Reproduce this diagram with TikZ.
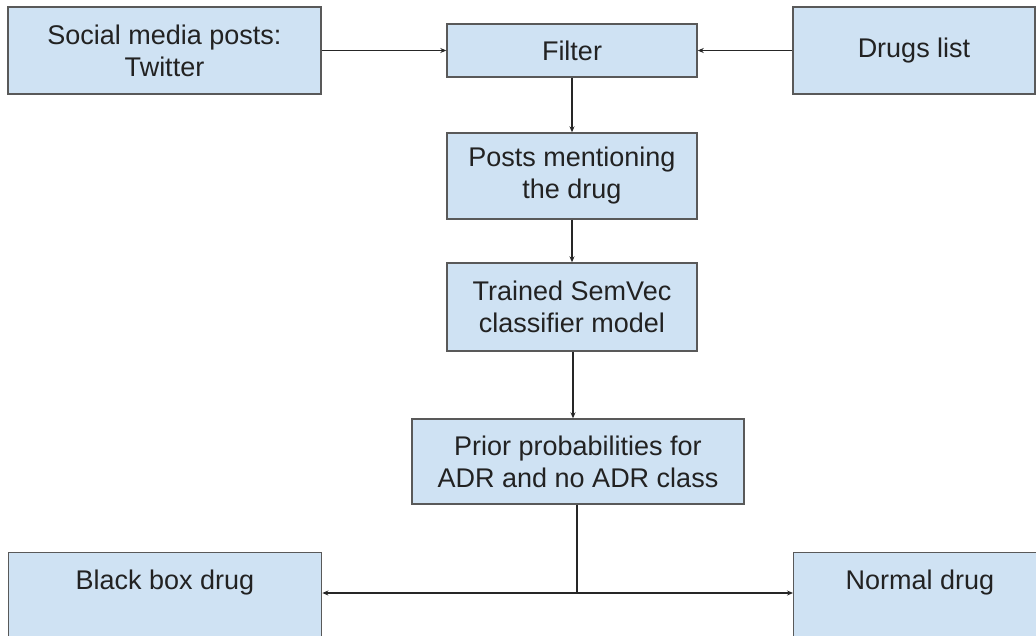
\documentclass[tikz,border=0pt]{standalone}
\usepackage{fontspec}
\setmainfont{Liberation Sans}
\usetikzlibrary{arrows.meta}
\definecolor{boxfill}{HTML}{CFE2F3}
\definecolor{boxline}{HTML}{595959}
\definecolor{txt}{HTML}{222222}
\begin{document}
\begin{tikzpicture}[x=1pt,y=-1pt,
  box/.style={draw=boxline,line width=1.4pt,fill=boxfill,rectangle,inner sep=0pt,
    align=center,text=txt,font=\fontsize{27}{32}\selectfont},
  conn/.style={line width=1.2pt,draw=black!85,-{Stealth[length=6pt,width=5pt]}},
  plain/.style={line width=1.2pt,draw=black!85}]
\useasboundingbox[fill=white] (0,0) rectangle (1036,635);
\node[box,minimum width=313pt,minimum height=87pt] (soc) at (164.5,50.5) {Social media posts:\\Twitter};
\node[box,minimum width=250pt,minimum height=53pt] (filt) at (572,50.5) {Filter};
\node[box,minimum width=242pt,minimum height=87pt] (drugs) at (914,50.5) {Drugs list};
\node[box,minimum width=250pt,minimum height=86pt] (posts) at (572,176) {Posts mentioning\\the drug};
\node[box,minimum width=250pt,minimum height=88pt] (trained) at (572,307) {Trained SemVec\\classifier model};
\node[box,minimum width=332pt,minimum height=85pt] (prior) at (578,461.5) {Prior probabilities for\\ADR and no ADR class};
\node[box,minimum width=313pt,minimum height=90pt,anchor=north west] (black) at (8,552) {};
\node[text=txt,font=\fontsize{27}{32}\selectfont] (blacktxt) at (165,583) {Black box drug};
\node[box,minimum width=256pt,minimum height=90pt,anchor=north west] (normal) at (793,552) {};
\node[text=txt,font=\fontsize{27}{32}\selectfont] (normaltxt) at (920,583) {Normal drug};
\coordinate (j) at (577,593);
\draw[conn] (soc.east) -- (filt.west);
\draw[conn] (drugs.west) -- (filt.east);
\draw[conn] (filt.south) -- (posts.north);
\draw[conn] (posts.south) -- (trained.north);
\draw[conn] ([xshift=1pt]trained.south) -- ([xshift=1pt]trained.south |- prior.north);
\draw[plain] ([xshift=-1pt]prior.south) -- (j);
\draw[conn] (j) -- (black.east |- j);
\draw[conn] (j) -- (normal.west |- j);
\end{tikzpicture}
\end{document}
